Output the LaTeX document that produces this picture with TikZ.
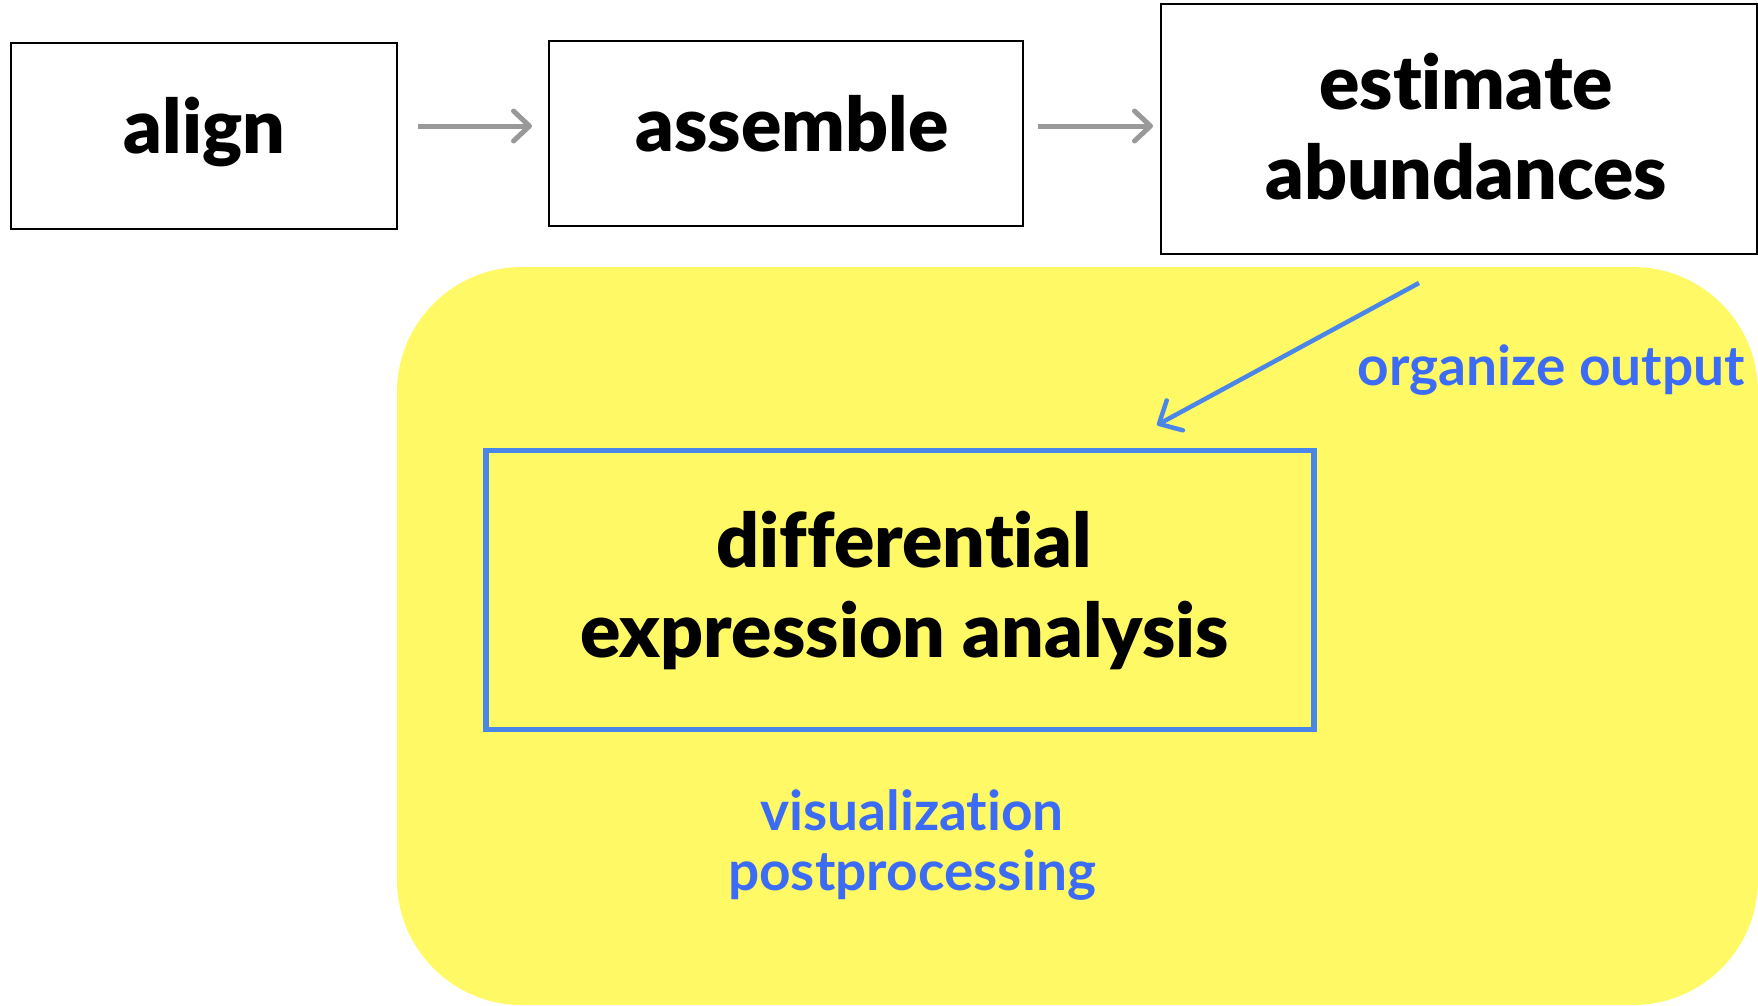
\documentclass[tikz,border=0pt]{standalone}
\usepackage{fontspec}
\usetikzlibrary{arrows.meta}
\newfontfamily\lblack{Lato Black}[Ligatures=NoCommon]
\newfontfamily\lbold{Lato Bold}[Ligatures=NoCommon]
\definecolor{bgyellow}{HTML}{FFF966}
\definecolor{boxblue}{HTML}{4A86E8}
\definecolor{txtblue}{HTML}{3C6CF5}
\definecolor{arrgray}{HTML}{999999}
\begin{document}
\begin{tikzpicture}[x=1pt,y=-1pt,
  stepbox/.style={draw=black,line width=2pt,inner sep=0pt},
  bigtxt/.style={font=\lblack\fontsize{75}{90}\selectfont,inner sep=0pt,anchor=base,align=center},
  bluetxt/.style={font=\lbold\fontsize{55}{60}\selectfont,text=txtblue,inner sep=0pt,anchor=base,align=center},
  grayarrow/.style={draw=arrgray,line width=5pt,-{Straight Barb[length=16pt,width=30pt,round]}},
  bluearrow/.style={draw=boxblue,line width=4.5pt,-{Straight Barb[length=18pt,width=34pt,round]}}]
\useasboundingbox (0,0) rectangle (1758,1005);
% yellow background
\fill[bgyellow,rounded corners=125pt] (397,267) rectangle (1758,1005);
% boxes
\node[stepbox,minimum width=386pt,minimum height=186pt] (align) at (204,136) {};
\node[stepbox,minimum width=474pt,minimum height=185pt] (assemble) at (786,133.5) {};
\node[stepbox,minimum width=596pt,minimum height=250pt] (estimate) at (1459,128.5) {};
\node[draw=boxblue,line width=5.5pt,inner sep=0pt,minimum width=828pt,minimum height=279pt] (dea) at (900,590) {};
% texts
\node[bigtxt] (talign) at (204.5,153) {align};
\node[bigtxt] (tassemble) at (792,151) {assemble};
\node[bigtxt] (testimate) at (1466,199) {estimate\\abundances};
\node[bigtxt] (tdea) at (904.5,657) {differential\\expression analysis};
\node[bluetxt] (torg) at (1551.5,385) {organize output};
\node[bluetxt] (tvis) at (912,890) {visualization\\postprocessing};
% connectors
\coordinate (a1s) at (418,126);
\coordinate (a1e) at (532,126);
\coordinate (a2s) at (1038,126);
\coordinate (a2e) at (1153,126);
\coordinate (b1s) at (1419,283);
\coordinate (b1e) at (1157,425);
\draw[grayarrow] (a1s) -- (a1e);
\draw[grayarrow] (a2s) -- (a2e);
\draw[bluearrow] (b1s) -- (b1e);
\end{tikzpicture}
\end{document}
